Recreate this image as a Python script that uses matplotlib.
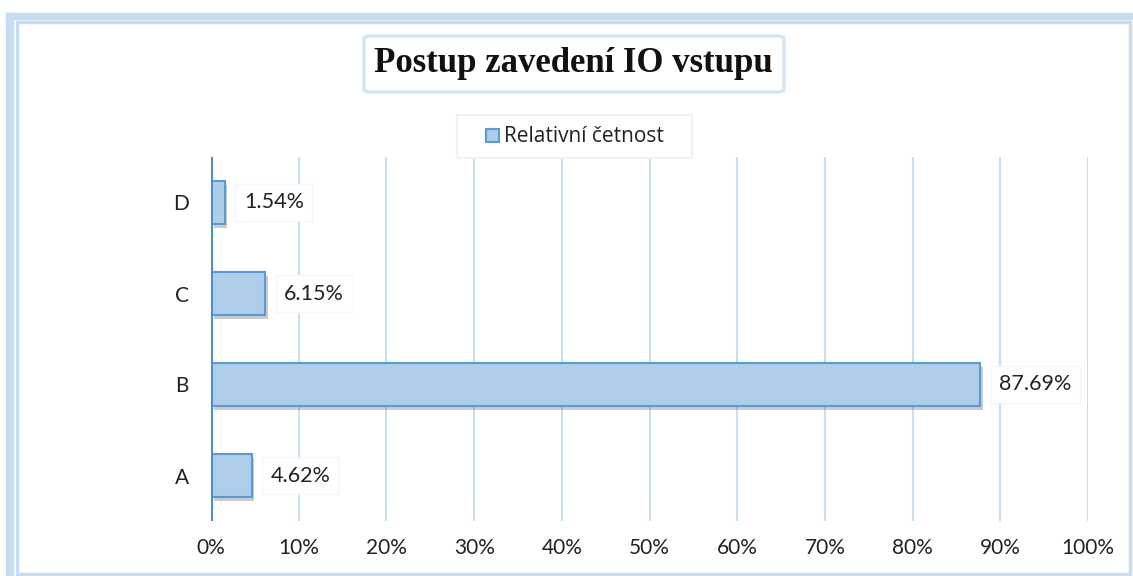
import matplotlib.pyplot as plt
from matplotlib.patches import FancyBboxPatch, Rectangle
import matplotlib.patheffects as pe

categories = ['A', 'B', 'C', 'D']
values = [4.62, 87.69, 6.15, 1.54]
xticks = [0, 10, 20, 30, 40, 50, 60, 70, 80, 90, 100]
title = 'Postup zavedení IO vstupu'
series_name = 'Relativní četnost'

W, H = 1133, 576
fig = plt.figure(figsize=(W / 100, H / 100), dpi=100)

# frame around the chart
frame_col = '#c6dcf0'
fig.patches.append(Rectangle((6 / W, 1 - 19 / H), 1 - 6 / W, 6 / H, transform=fig.transFigure,
                             color=frame_col, zorder=0))
fig.patches.append(Rectangle((6 / W, 0), 7 / W, 1 - 13 / H, transform=fig.transFigure,
                             color=frame_col, zorder=0))
fig.patches.append(Rectangle((17 / W, 1 - 574 / H), (1130 - 17) / W, (574 - 22) / H,
                             transform=fig.transFigure, fill=False, ec=frame_col, lw=2.5, zorder=0))

# axes: x 211..1088, y 157..521
ax = fig.add_axes([211 / W, 1 - 521 / H, (1088 - 211) / W, (521 - 157) / H])
ax.set_xlim(0, 100)
ax.set_ylim(-0.5, 3.5)
ax.set_xticks(xticks)
ax.set_xticklabels([f'{t}%' for t in xticks], fontsize=15, family='Lato', color='#222222')
ax.set_yticks(range(len(categories)))
ax.set_yticklabels(categories, fontsize=15, family='Lato', color='#222222')
ax.tick_params(length=0, pad=12)
ax.tick_params(axis='y', pad=16)
for s in ax.spines.values():
    s.set_visible(False)
ax.axvline(0, color='#4a90cf', lw=2.2, zorder=4)
for t in xticks[1:]:
    ax.axvline(t, color='#c9def0', lw=1.5, zorder=0)

shadow = [pe.SimplePatchShadow(offset=(2, -3), shadow_rgbFace='#555555', alpha=0.3), pe.Normal()]
bars = ax.barh(range(len(categories)), values, height=0.47, color='#aecde9',
               edgecolor='#5b9bd5', lw=1.5, zorder=3)
for b in bars:
    b.set_path_effects(shadow)

for i, v in enumerate(values):
    ax.text(v + 2.2, i, f'{v:.2f}%', va='center', ha='left', fontsize=15.5, family='Lato',
            color='#222222', zorder=5,
            bbox=dict(boxstyle='square,pad=0.4', fc='white', ec='#f1f6fb', lw=1))

# title box
fig.patches.append(FancyBboxPatch((364 / W, 1 - 92 / H), (784 - 364) / W, (92 - 36) / H,
                                  boxstyle='round,pad=0,rounding_size=0.005',
                                  transform=fig.transFigure, fc='white', ec='#d6e6f4', lw=2.5, zorder=1))
fig.text(573 / W, 1 - 63 / H, title, ha='center', va='center', fontsize=25,
         family='Liberation Serif', weight='bold', color='#111111', zorder=2)

# legend box
fig.patches.append(Rectangle((457 / W, 1 - 158 / H), (692 - 457) / W, (158 - 115) / H,
                             transform=fig.transFigure, fc='white', ec='#eef3f9', lw=1.5, zorder=1))
fig.patches.append(Rectangle((486 / W, 1 - 142 / H), 13 / W, 13 / H, transform=fig.transFigure,
                             fc='#aecde9', ec='#5b9bd5', lw=1.5, zorder=2))
fig.text(504 / W, 1 - 136 / H, series_name, ha='left', va='center', fontsize=15,
         family='Open Sans', color='#222222', zorder=2)

fig.savefig('out.png', dpi=100)
